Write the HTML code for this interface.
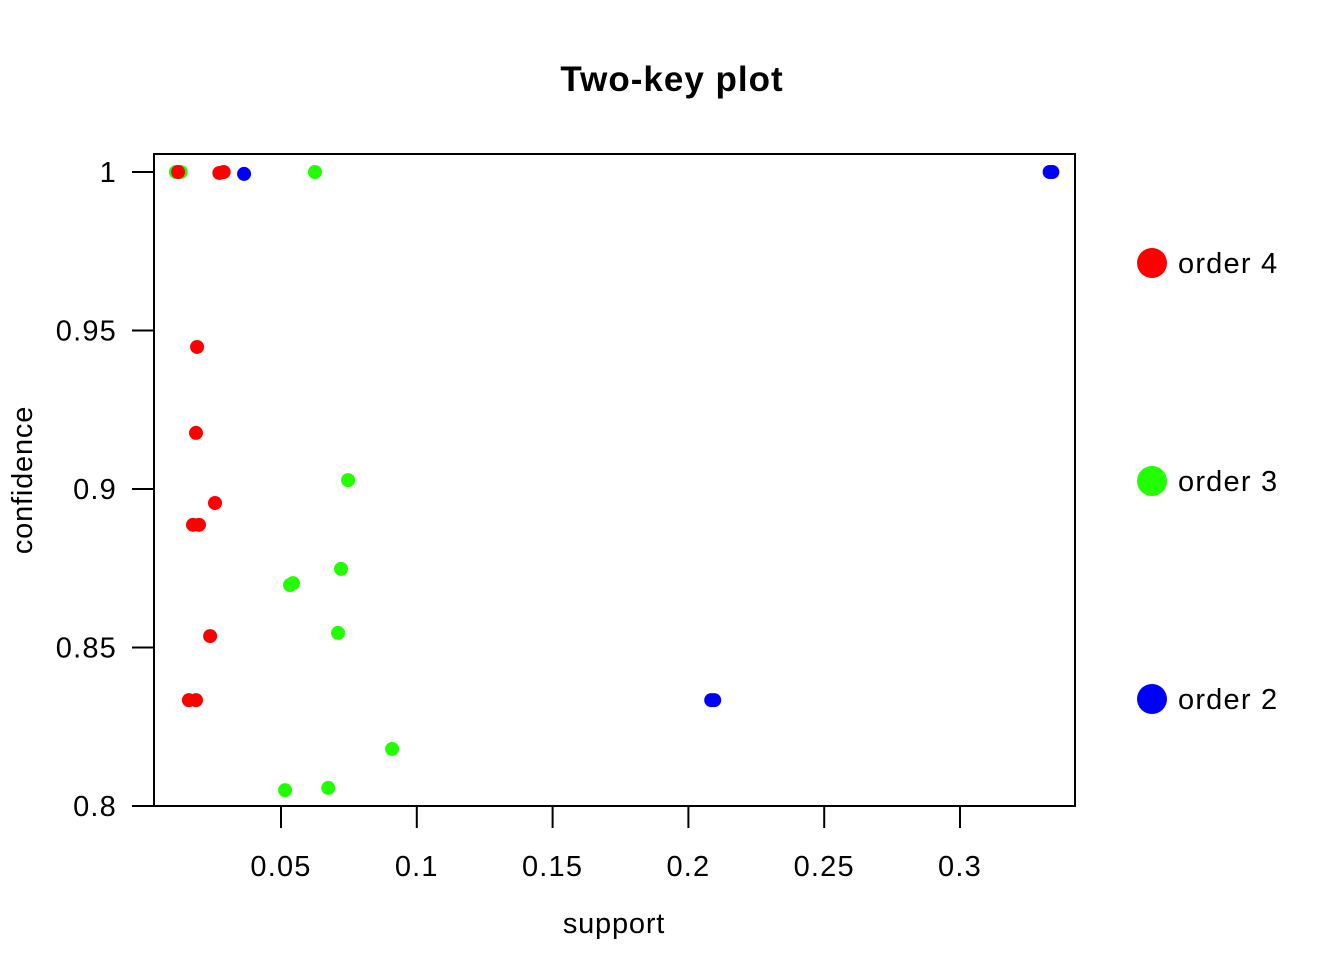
<!DOCTYPE html>
<html><head><meta charset="utf-8"><style>
body{margin:0;background:#fff}
svg text{font-family:"Liberation Sans",Arial,sans-serif;fill:#000}
</style></head><body>
<svg id="chart" width="1344" height="960" xmlns="http://www.w3.org/2000/svg">
<text x="672" y="91" text-anchor="middle" font-size="35" font-weight="bold" letter-spacing="1">Two-key plot</text>
<rect x="154" y="154" width="921" height="652" fill="none" stroke="#000" stroke-width="2"/>
<g id="xaxis"></g>
<g id="yaxis"></g>
<text x="614" y="933" text-anchor="middle" font-size="29" letter-spacing="0.8">support</text>
<text transform="translate(32,480) rotate(-90)" text-anchor="middle" font-size="29" letter-spacing="0.8">confidence</text>
<g id="points"></g>
<g id="legend"></g>
</svg>
<script>
const xTicks=[0.05,0.1,0.15,0.2,0.25,0.3];
const xTickLabels=["0.05","0.1","0.15","0.2","0.25","0.3"];
const yTicks=[0.8,0.85,0.9,0.95,1];
const yTickLabels=["0.8","0.85","0.9","0.95","1"];
const order4Support=[0.0121,0.0273,0.0289,0.0191,0.0187,0.0257,0.0176,0.0198,0.0239,0.0161,0.0187];
const order4Confidence=[1.0,0.9997,1.0,0.9448,0.9177,0.8956,0.8887,0.8887,0.8536,0.8334,0.8334];
const order3Support=[0.0113,0.0131,0.0625,0.0747,0.0533,0.0544,0.0721,0.0710,0.0909,0.0515,0.0674];
const order3Confidence=[1.0,1.0,1.0,0.9028,0.8697,0.8703,0.8748,0.8546,0.8180,0.8050,0.8057];
const order2Support=[0.0364,0.333,0.334,0.2084,0.2095];
const order2Confidence=[0.9994,1.0,1.0,0.8334,0.8334];
const NS="http://www.w3.org/2000/svg";
function sx(v){return 145.2+v*2716;}
function sy(v){return 172+(1-v)/0.2*634;}
function mk(tag,attrs,parent){const e=document.createElementNS(NS,tag);for(const k in attrs)e.setAttribute(k,attrs[k]);parent.appendChild(e);return e;}
const xa=document.getElementById('xaxis');
mk('line',{x1:sx(xTicks[0]),x2:sx(xTicks[xTicks.length-1]),y1:806,y2:806,stroke:'#000','stroke-width':2},xa);
xTicks.forEach((t,i)=>{
 const l=mk('line',{x1:sx(t),x2:sx(t),y1:806,y2:828,stroke:'#000','stroke-width':2},xa);
 
 
 const tx=mk('text',{x:sx(t),y:876,'text-anchor':'middle','font-size':29,'letter-spacing':1.2},xa);
 tx.textContent=xTickLabels[i];
 
 
});
const ya=document.getElementById('yaxis');
yTicks.forEach((t,i)=>{
 const l=mk('line',{x1:132,x2:154,y1:sy(t),y2:sy(t),stroke:'#000','stroke-width':2},ya);
 
 
 const tx=mk('text',{x:117,y:sy(t)+10,'text-anchor':'end','font-size':29,'letter-spacing':1.2},ya);
 tx.textContent=yTickLabels[i];
 
 
});
const pts=document.getElementById('points');
function series(xs,ys,color,name){
 xs.forEach((x,i)=>{
  const c=mk('circle',{cx:sx(x),cy:sy(ys[i]),r:7,fill:color},pts);
  
  
 });
}
series(order3Support,order3Confidence,'#22ff00','order3');
series(order4Support,order4Confidence,'#ff0000','order4');
series(order2Support,order2Confidence,'#0000ff','order2');
const lg=document.getElementById('legend');
[['order 4','#ff0000',263],['order 3','#22ff00',481],['order 2','#0000ff',699]].forEach(d=>{
 const c=mk('circle',{cx:1152,cy:d[2],r:15,fill:d[1]},lg);
 
 
 const t=mk('text',{x:1178,y:d[2]+10,'font-size':29,'letter-spacing':1.2},lg);
 t.textContent=d[0];
 
 
});
</script>
</body></html>
